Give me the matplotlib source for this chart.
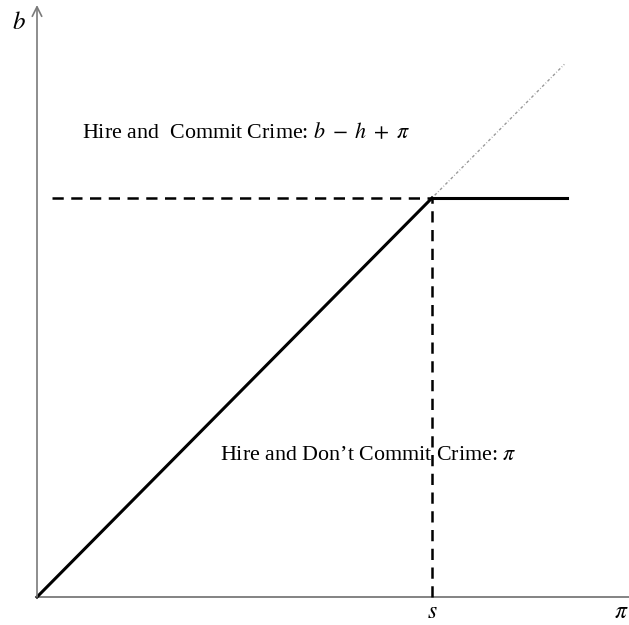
import numpy as np
import matplotlib.pyplot as plt

plt.rcParams['font.family'] = 'Liberation Serif'
plt.rcParams['mathtext.fontset'] = 'stix'

# threshold values
s = 1.0                # salary threshold on the pi axis
b_star = 1.0           # b value where the regions meet
pi_end = 1.342         # right end of the drawn lines
diag_end = [1.335, 1.335]
dash_start = 0.038

fig = plt.figure(figsize=(6.29, 6.25), dpi=100)
ax = fig.add_axes([0, 0, 1, 1])
ax.set_xlim(-37 / 395, 592 / 395)
ax.set_ylim(-28 / 399, 597 / 399)
ax.axis('off')

axis_col = '#7a7a7a'
# axes
ax.plot([0, 592 / 395], [0, 0], color=axis_col, lw=1.3)
ax.annotate('', xy=(0, 592 / 399), xytext=(0, 0),
            arrowprops=dict(arrowstyle='->', color=axis_col, lw=1.2,
                            mutation_scale=17, shrinkA=0, shrinkB=0))

# dotted 45 degree line
ax.plot([0, diag_end[0]], [0, diag_end[1]], color='#999999', lw=1.0,
        ls=(0, (2, 1.5, 0.5, 1.5)))
# boundary
ax.plot([0, s], [0, b_star], color='black', lw=2.2)
ax.plot([s, pi_end], [b_star, b_star], color='black', lw=2.2)
# dashed guides
ax.plot([dash_start, s], [b_star, b_star], color='black', lw=1.8, ls=(0, (4.5, 3)))
ax.plot([s, s], [0, b_star], color='black', lw=1.8, ls=(0, (4.5, 3)))

# labels
ax.text(-18 / 395, 574 / 399, '$b$', fontsize=18, ha='center', va='center')
ax.text(s, -16 / 399, '$s$', fontsize=17, ha='center', va='center')
ax.text(584 / 395, -16 / 399, r'$\pi$', fontsize=17, ha='center', va='center')

ax.text(45 / 395, 459 / 399, r'Hire and  Commit Crime: $b \;-\; h \;+\; \pi$',
        fontsize=15.8, ha='left', va='baseline')
ax.text(183 / 395, 137 / 399, r'Hire and Don’t Commit Crime: $\pi$',
        fontsize=15.8, ha='left', va='baseline')

plt.savefig('out.png', dpi=100)
